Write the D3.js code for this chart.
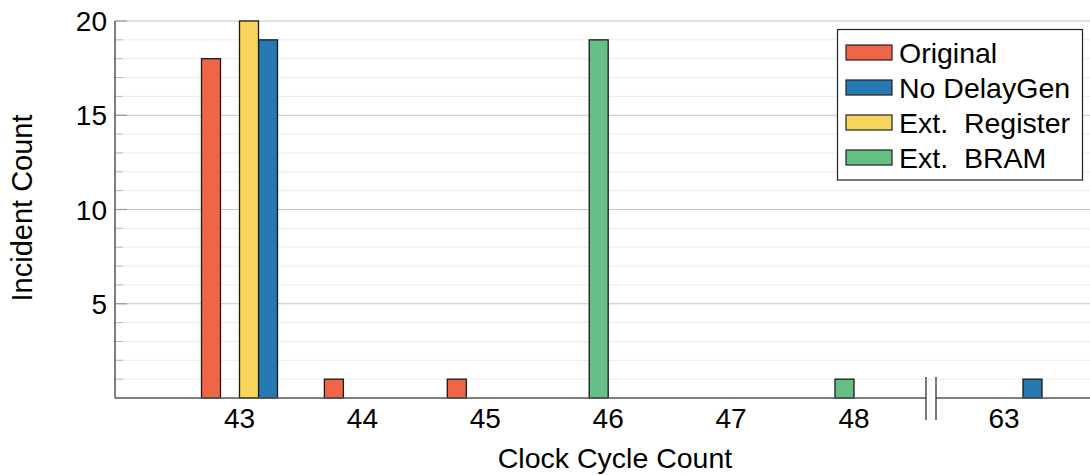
<!DOCTYPE html>
<html>
<head>
<meta charset="utf-8">
<script src="https://cdn.jsdelivr.net/npm/d3@7"></script>
<style>
  body { margin: 0; background: #fff; }
  text { font-family: "Liberation Sans", Arial, sans-serif; fill: #000; }
</style>
</head>
<body>
<svg id="chart" width="1090" height="475"></svg>
<script>
var categories = [43, 44, 45, 46, 47, 48, 63];
var original = [18, 1, 1, 0, 0, 0, 0];
var noDelayGen = [19, 0, 0, 0, 0, 0, 1];
var extRegister = [20, 0, 0, 0, 0, 0, 0];
var extBRAM = [0, 0, 0, 19, 0, 1, 0];
var yTicks = [5, 10, 15, 20];

var legendNames = ['Original', 'No DelayGen', 'Ext.  Register', 'Ext.  BRAM'];
var colors = ['#ee6647', '#2679b1', '#f8d55b', '#66bf84'];
// bars within a group are drawn in this order, left to right
var barOrder = [0, 3, 2, 1];

var seriesValues = [original, noDelayGen, extRegister, extBRAM];

var plotLeft = 115, plotRight = 1090, plotTop = 21, plotBottom = 398;

var svg = d3.select('#chart');

// broken x axis: 43..48 evenly spaced, then a jump to 63
var x = d3.scaleLinear().domain([43, 48, 63]).range([239.5, 854, 1004]);
var inner = d3.scaleBand().domain(barOrder).range([-38, 38]).padding(0);
var y = d3.scaleLinear().domain([0, 20]).range([plotBottom, plotTop]);

// minor + major gridlines
var minor = d3.range(1, 20).filter(d => d % 5 !== 0);
svg.append('g').selectAll('line')
  .data(minor).enter().append('line')
  .attr('x1', plotLeft).attr('x2', plotRight)
  .attr('y1', d => y(d)).attr('y2', d => y(d))
  .attr('stroke', '#ececec').attr('stroke-width', 1);

svg.append('g').selectAll('line')
  .data(yTicks).enter().append('line')
  .attr('x1', plotLeft).attr('x2', plotRight)
  .attr('y1', d => y(d)).attr('y2', d => y(d))
  .attr('stroke', '#c4c4c4').attr('stroke-width', 1.2);

// tick marks on the inside of the y axis
svg.append('g').selectAll('line')
  .data(minor).enter().append('line')
  .attr('x1', plotLeft).attr('x2', plotLeft + 8)
  .attr('y1', d => y(d)).attr('y2', d => y(d))
  .attr('stroke', '#bbb');
svg.append('g').selectAll('line')
  .data(yTicks).enter().append('line')
  .attr('x1', plotLeft).attr('x2', plotLeft + 12)
  .attr('y1', d => y(d)).attr('y2', d => y(d))
  .attr('stroke', '#999').attr('stroke-width', 1.2);

// bars
var bars = [];
categories.forEach((c, i) => {
  seriesValues.forEach((vals, s) => {
    if (vals[i] > 0) bars.push({cat: c, series: s, value: vals[i]});
  });
});

svg.append('g').selectAll('rect')
  .data(bars).enter().append('rect')
  .attr('x', d => x(d.cat) + inner(d.series))
  .attr('y', d => y(d.value))
  .attr('width', inner.bandwidth())
  .attr('height', d => y(0) - y(d.value))
  .attr('fill', d => colors[d.series])
  .attr('stroke', '#1a1a1a').attr('stroke-width', 1.3);

// axes lines
svg.append('line')
  .attr('x1', plotLeft).attr('x2', plotRight).attr('y1', plotBottom).attr('y2', plotBottom)
  .attr('stroke', '#555').attr('stroke-width', 1.5);
svg.append('line')
  .attr('x1', plotLeft).attr('x2', plotLeft).attr('y1', plotTop).attr('y2', plotBottom)
  .attr('stroke', '#555').attr('stroke-width', 1.5);

// axis break marks
var breakX = x(48) + 77;
svg.append('rect')
  .attr('x', breakX - 5).attr('y', plotBottom - 2).attr('width', 10).attr('height', 4)
  .attr('fill', '#fff');
svg.append('g').selectAll('line')
  .data([-5, 5]).enter().append('line')
  .attr('x1', d => breakX + d).attr('x2', d => breakX + d)
  .attr('y1', plotBottom - 21).attr('y2', plotBottom + 22)
  .attr('stroke', '#222').attr('stroke-width', 1.2);

// tick labels
svg.append('g').selectAll('text')
  .data(categories).enter().append('text')
  .attr('x', d => x(d)).attr('y', 428)
  .attr('text-anchor', 'middle')
  .attr('font-size', 28)
  .text(d => d);

svg.append('g').selectAll('text')
  .data(yTicks).enter().append('text')
  .attr('x', 107).attr('y', d => y(d) + 10)
  .attr('text-anchor', 'end')
  .attr('font-size', 28)
  .text(d => d);

// axis titles
svg.append('text')
  .attr('x', 615).attr('y', 468)
  .attr('text-anchor', 'middle')
  .attr('font-size', 28.5)
  .text('Clock Cycle Count');

svg.append('text')
  .attr('transform', 'translate(32,208)rotate(-90)')
  .attr('text-anchor', 'middle')
  .attr('font-size', 29)
  .text('Incident  Count');

// legend
var legend = svg.append('g');
legend.append('rect')
  .attr('x', 837.5).attr('y', 29.5).attr('width', 245).attr('height', 150.5)
  .attr('fill', '#fff').attr('stroke', '#222').attr('stroke-width', 1.2);

var rows = legend.selectAll('g.row')
  .data(legendNames).enter().append('g')
  .attr('transform', (d, i) => 'translate(0,' + (52.5 + i * 35) + ')');

rows.append('rect')
  .attr('x', 846).attr('y', -7.5).attr('width', 46).attr('height', 15)
  .attr('fill', (d, i) => colors[i])
  .attr('stroke', '#222').attr('stroke-width', 1.2);

rows.append('text')
  .attr('x', 899).attr('y', 10)
  .attr('font-size', 28.5)
  .style('white-space', 'pre')
  .text(d => d);
</script>
</body>
</html>
